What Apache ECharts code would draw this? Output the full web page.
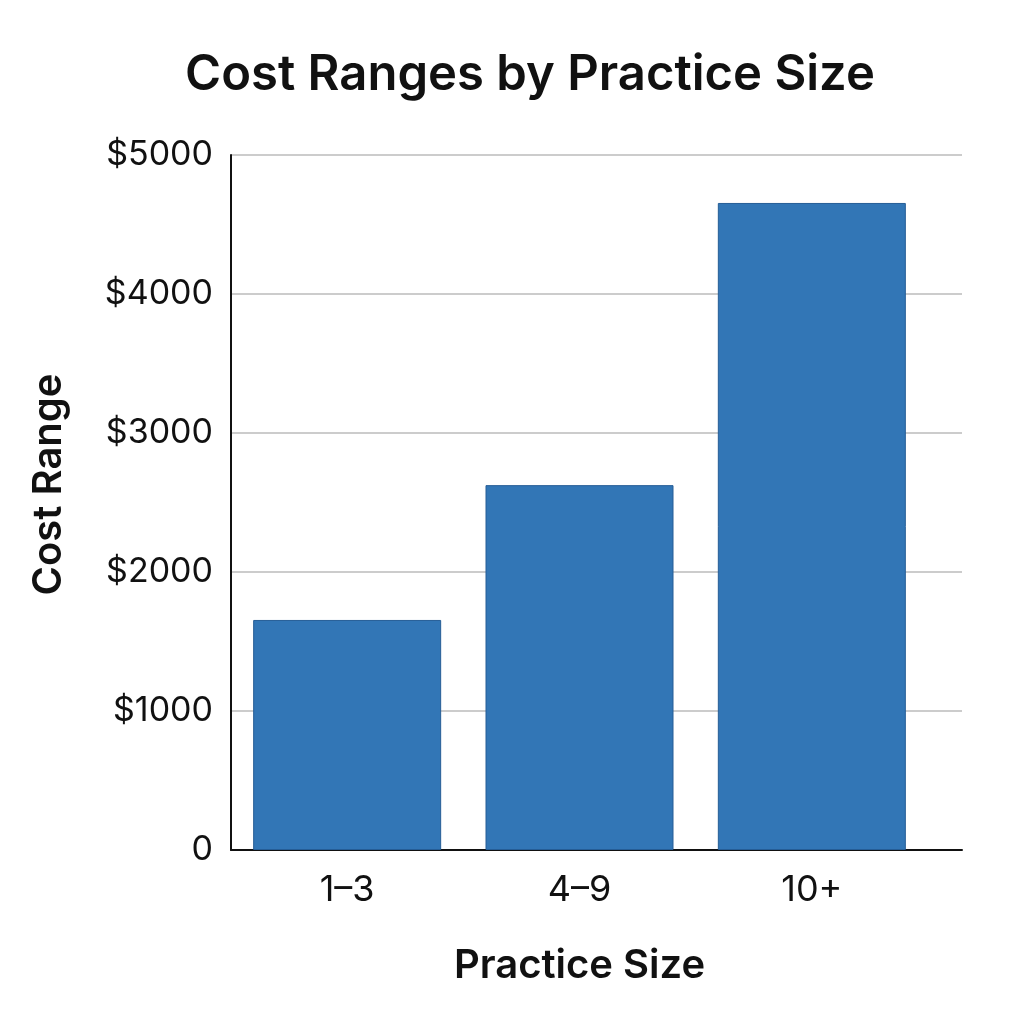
<!DOCTYPE html>
<html>
<head>
<meta charset="utf-8">
<script src="https://cdn.jsdelivr.net/npm/echarts@6/dist/echarts.min.js"></script>
<style>
  html, body { margin: 0; padding: 0; background: #fff; }
  #chart { width: 1024px; height: 1024px; }
</style>
</head>
<body>
<div id="chart"></div>
<script>
const categories = ["1–3", "4–9", "10+"];
const costValues = [1655, 2625, 4655];
const yTicks = [0, 1000, 2000, 3000, 4000, 5000];

const font = "Inter, 'Noto Sans', sans-serif";
const yMin = yTicks[0], yMax = yTicks[yTicks.length - 1];

echarts.init(document.querySelector("#chart")).setOption({
  backgroundColor: "#fff",
  animation: false,
  title: {
    text: "Cost Ranges by Practice Size",
    left: 525,
    textAlign: "center",
    top: 46,
    textStyle: { fontFamily: font, fontSize: 49, fontWeight: 600, color: "#111" }
  },
  // grid 0 holds the frame and grid lines, grid 1 holds the bars
  grid: [
    { left: 231, right: 62, top: 155, bottom: 174 },
    { left: 231, right: 96, top: 155, bottom: 174 }
  ],
  xAxis: [{
    type: "category",
    gridIndex: 0,
    data: categories,
    axisLine: { lineStyle: { color: "#111", width: 2 } },
    axisTick: { show: false },
    axisLabel: { show: false }
  }, {
    type: "category",
    gridIndex: 1,
    data: categories,
    name: "Practice Size",
    nameLocation: "middle",
    nameGap: 96,
    nameTextStyle: { fontFamily: font, fontSize: 40, fontWeight: 600, color: "#111" },
    axisLine: { show: false },
    axisTick: { show: false },
    axisLabel: { fontFamily: font, fontSize: 36, color: "#111", margin: 22 }
  }],
  yAxis: [{
    type: "value",
    gridIndex: 0,
    min: yMin,
    max: yMax,
    interval: 1000,
    name: "Cost Range",
    nameLocation: "middle",
    nameGap: 162,
    nameTextStyle: { fontFamily: font, fontSize: 40, fontWeight: 600, color: "#111", padding: [0, 0, 0, 36] },
    axisLine: { show: true, lineStyle: { color: "#111", width: 2 } },
    axisTick: { show: false },
    splitLine: { lineStyle: { color: "#bbb", width: 1.5 } },
    axisLabel: {
      fontFamily: font, fontSize: 34, color: "#111", margin: 18,
      formatter: v => v === 0 ? "0" : "$" + v
    }
  }, {
    type: "value",
    gridIndex: 1,
    min: yMin,
    max: yMax,
    show: false,
    splitLine: { show: false }
  }],
  series: [{
    type: "bar",
    xAxisIndex: 1,
    yAxisIndex: 1,
    data: costValues,
    barWidth: 188,
    itemStyle: { color: "#3276b6", borderColor: "#255d96", borderWidth: 1 }
  }]
});
</script>
</body>
</html>
